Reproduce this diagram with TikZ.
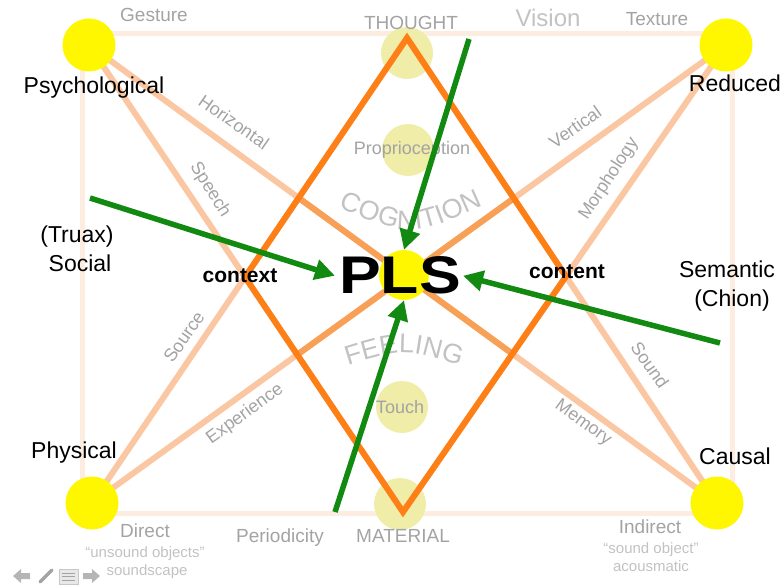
\documentclass[tikz,border=0pt]{standalone}
\usepackage{fontspec}
\setmainfont{Liberation Sans}
\usetikzlibrary{arrows.meta,decorations.text}
\definecolor{framecol}{HTML}{FDEDE1}
\definecolor{palecol}{HTML}{FAC7A2}
\definecolor{midcol}{HTML}{F8A056}
\definecolor{deepcol}{HTML}{FF7F17}
\definecolor{leafcol}{HTML}{128A12}
\definecolor{dimcol}{HTML}{A3A3A3}
\definecolor{faintcol}{HTML}{C2C2C2}
\definecolor{dotcol}{HTML}{FFF700}
\definecolor{ghostcol}{HTML}{F0EDA8}
\tikzset{
  corner/.style={circle,fill=dotcol,minimum size=53pt,inner sep=0pt},
  ghostdot/.style={circle,fill=ghostcol,minimum size=52pt,inner sep=0pt},
  frameline/.style={draw=framecol,line width=5pt},
  paleline/.style={draw=palecol,line width=6pt},
  midline/.style={draw=midcol,line width=6pt},
  deepline/.style={draw=deepcol,line width=6pt,line join=miter},
  push/.style={draw=leafcol,line width=5.5pt,-{Triangle[length=20pt,width=20pt]}},
  big/.style={anchor=base,font=\fontsize{23}{26}\selectfont},
  mark label/.style={anchor=base,text=dimcol,font=\fontsize{19}{22}\selectfont},
  linetag/.style={text=dimcol,font=\fontsize{18}{20}\selectfont},
  note/.style={anchor=base,text=faintcol,font=\fontsize{15}{17}\selectfont},
  keyword/.style={anchor=base,font=\fontsize{21}{24}\selectfont\bfseries},
  icon/.style={fill=dimcol!80,draw=none}
}
\begin{document}
\begin{tikzpicture}[x=1pt,y=-1pt]
\useasboundingbox (0,0) rectangle (784,585);
\coordinate (psy) at (89,45);
\coordinate (red) at (726,45);
\coordinate (phy) at (92,503);
\coordinate (cau) at (717,503);
\coordinate (thought) at (407,38);
\coordinate (material) at (403,512);
\coordinate (ctx) at (intersection of psy--material and phy--thought);
\coordinate (cnt) at (intersection of red--material and cau--thought);
\draw[frameline] (82,34) rectangle (732,513);
\node[ghostdot] (thoughtdot) at (407,53) {};
\node[ghostdot] (propdot) at (408,150) {};
\node[ghostdot] (touchdot) at (402,407) {};
\node[ghostdot] (materialdot) at (400,504) {};
\draw[paleline] (psy) -- (cau) (red) -- (phy) (psy) -- (material) (red) -- (material) (phy) -- (thought) (cau) -- (thought);
\begin{scope}
\clip (thought) -- (ctx) -- (material) -- (cnt) -- cycle;
\draw[midline] (psy) -- (cau) (red) -- (phy);
\end{scope}
\draw[deepline] (thought) -- (ctx) -- (material) -- (cnt) -- cycle;
\node[corner] (psydot) at (psy) {};
\node[corner] (reddot) at (red) {};
\node[corner] (phydot) at (phy) {};
\node[corner] (caudot) at (cau) {};
\node[big] (psylabel) at (94,94) {Psychological};
\node[big] (redlabel) at (735,92) {Reduced};
\node[big] (phylabel) at (74,458) {Physical};
\node[big] (caulabel) at (735,464) {Causal};
\node[big] (truax) at (77,243) {(Truax)};
\node[big] (social) at (80,272) {Social};
\node[big] (semantic) at (727,277) {Semantic};
\node[big] (chion) at (732,306) {(Chion)};
\node[mark label] (gesture) at (154,22) {Gesture};
\node[mark label] (thoughtlabel) at (411,30) {THOUGHT};
\node[anchor=base,text=faintcol,font=\fontsize{24}{26}\selectfont] (vision) at (548,27) {Vision};
\node[mark label] (texture) at (657,26) {Texture};
\node[linetag] (proprio) at (412,150) {Proprioception};
\node[linetag] (touch) at (400,407) {Touch};
\node[mark label] (direct) at (145,537) {Direct};
\node[note] (unsound) at (145,557) {“unsound objects”};
\node[note] (soundscape) at (147,575) {soundscape};
\node[mark label] (periodicity) at (280,542) {Periodicity};
\node[mark label] (materiallabel) at (403,542) {MATERIAL};
\node[mark label] (indirect) at (650,533) {Indirect};
\node[note] (soundobject) at (651,553) {“sound object”};
\node[note] (acousmatic) at (651,571) {acousmatic};
\node[linetag,rotate=-35] (horizontal) at (234,122) {Horizontal};
\node[linetag,rotate=-58] (speech) at (210,190) {Speech};
\node[linetag,rotate=35] (vertical) at (575,127) {Vertical};
\node[linetag,rotate=57] (morphology) at (609,179) {Morphology};
\node[linetag,rotate=55] (source) at (184,337) {Source};
\node[linetag,rotate=-55] (sound) at (650,365) {Sound};
\node[linetag,rotate=36] (experience) at (245,414) {Experience};
\node[linetag,rotate=-36] (memory) at (583,423) {Memory};
\path[decorate,decoration={text along path,text align=center,
  text={|\fontsize{27}{27}\selectfont\color{faintcol}|COGNITION}}]
  (335,206) .. controls (411,238) .. (487,204);
\path[decorate,decoration={text along path,text align=center,
  text={|\fontsize{27}{27}\selectfont\color{faintcol}|FEELING}}]
  (340,368) .. controls (404,348) .. (468,368);
\node[keyword] (context) at (240,283) {context};
\node[keyword] (content) at (567,279) {content};
\node[corner,minimum size=50pt] (plsdot) at (404,275) {};
\node[anchor=base,inner sep=0pt,xscale=1.18,font=\fontsize{53}{53}\selectfont\bfseries] (pls) at (400,294) {PLS};
\coordinate (leftin) at (90,198);
\coordinate (topin) at (469,39);
\coordinate (bottomin) at (335,512);
\coordinate (rightin) at (720,343);
\draw[push] (leftin) -- ([xshift=-4pt]pls.west);
\draw[push] (topin) -- (plsdot.north);
\draw[push] (bottomin) -- (plsdot.south);
\draw[push] (rightin) -- ([xshift=2pt]pls.east);
\fill[icon] (13,576) -- (21,569) -- (21,573) -- (30,573) -- (30,579) -- (21,579) -- (21,583) -- cycle;
\draw[dimcol,line width=3.5pt,line cap=round] (40,582) -- (52,570);
\draw[dimcol!60,fill=dimcol!25] (59,569) rectangle (78,584);
\draw[dimcol,line width=1pt] (62,573) -- (75,573) (62,576.5) -- (75,576.5) (62,580) -- (75,580);
\fill[icon] (100,576) -- (92,569) -- (92,573) -- (83,573) -- (83,579) -- (92,579) -- (92,583) -- cycle;
\end{tikzpicture}
\end{document}
